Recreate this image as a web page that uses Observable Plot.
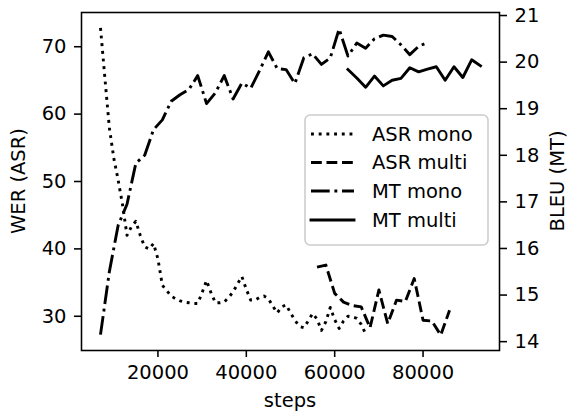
<!DOCTYPE html>
<html><head><meta charset="utf-8">
<script src="https://cdn.jsdelivr.net/npm/d3@7"></script>
<script src="https://cdn.jsdelivr.net/npm/@observablehq/plot@0.6"></script>
<style>
body{margin:0;background:#fff}
#chart{width:567px;height:413px}
</style>
</head><body><div id="chart"></div>
<script>
// ---- data ----
const asrMonoSteps = [7000,8000,9000,10000,11000,12000,13000,14000,15000,16000,17000,18000,19000,20000,21000,22000,23000,24000,25000,26000,27000,28000,29000,30000,31000,32000,33000,34000,35000,36000,37000,38000,39000,40000,41000,42000,43000,44000,45000,46000,47000,48000,49000,50000,51000,52000,53000,54000,55000,56000,57000,58000,59000,60000,61000,62000,63000,64000,65000,66000,67000];
const asrMonoWer = [72.8,65.3,58.0,53.5,50.2,46.5,42.0,43.3,44.1,42.0,40.3,40.0,40.8,38.5,34.6,33.8,33.0,32.6,32.3,32.1,32.0,31.9,31.9,33.5,35.3,33.5,32.0,32.0,32.1,32.8,33.6,34.8,35.9,34.0,32.4,32.4,32.8,33.0,32.6,31.5,30.5,31.4,31.7,30.5,29.4,28.5,28.3,29.3,30.4,29.6,27.9,29.2,31.3,29.5,28.2,29.3,30.0,29.9,29.7,28.8,27.4];

const asrMultiSteps = [56000,58000,60000,62000,64000,66000,68000,70000,72000,74000,76000,78000,80000,82000,84000,86000];
const asrMultiWer = [37.3,37.6,33.4,32.1,31.6,31.4,28.3,33.9,28.9,32.4,32.2,35.6,29.4,29.3,27.2,30.9];

const mtMonoSteps = [7000,9000,11000,13000,15000,17000,19000,21000,23000,25000,27000,29000,31000,33000,35000,37000,39000,41000,43000,45000,47000,49000,51000,53000,55000,57000,59000,61000,63000,65000,67000,69000,71000,73000,75000,77000,79000,81000];
const mtMonoBleu = [14.15,15.5,16.5,16.95,17.83,18.0,18.55,18.76,19.16,19.3,19.41,19.71,19.11,19.34,19.71,19.21,19.55,19.44,19.82,20.22,19.86,19.84,19.54,20.09,20.18,19.95,20.09,20.71,20.13,20.41,20.3,20.5,20.58,20.55,20.37,20.16,20.34,20.42];

const mtMultiSteps = [63000,65000,67000,69000,71000,73000,75000,77000,79000,81000,83000,85000,87000,89000,91000,93000];
const mtMultiBleu = [19.84,19.66,19.46,19.7,19.49,19.61,19.65,19.88,19.79,19.85,19.9,19.61,19.9,19.67,20.05,19.92];

const xTicks = [20000,40000,60000,80000];
const werTicks = [30,40,50,60,70];
const bleuTicks = [14,15,16,17,18,19,20,21];

const seriesNames = ["ASR mono","ASR multi","MT mono","MT multi"];

// ---- scales ----
const xDomain = [2700, 97300];
const werDomain = [24.92, 75.08];
const bleuDomain = [13.81, 21.065];
// map BLEU (right axis) into the shared WER y scale
const toWer = b => werDomain[0] + (b - bleuDomain[0]) / (bleuDomain[1] - bleuDomain[0]) * (werDomain[1] - werDomain[0]);

const asrMono = asrMonoSteps.map((s,i)=>({step:s, v:asrMonoWer[i]}));
const asrMulti = asrMultiSteps.map((s,i)=>({step:s, v:asrMultiWer[i]}));
const mtMono = mtMonoSteps.map((s,i)=>({step:s, v:toWer(mtMonoBleu[i])}));
const mtMulti = mtMultiSteps.map((s,i)=>({step:s, v:toWer(mtMultiBleu[i])}));

const LW = 2.9;
const dashes = ["2.9,4.8", "10.8,4.7", "18.7,4.7,2.9,4.7", null];
const FS = 19.5;

const lineOpts = (k) => ({x:"step", y:"v", stroke:"black", strokeWidth:LW,
  strokeDasharray: dashes[k] ?? undefined, strokeLinecap: k===3 ? "square" : "butt", strokeLinejoin:"round"});

const plot = Plot.plot({
  width: 567, height: 413,
  marginLeft: 81, marginRight: 68, marginTop: 12, marginBottom: 63,
  x: {domain: xDomain},
  y: {domain: werDomain},
  style: {fontFamily: "'DejaVu Sans'", fontSize: FS + "px", color: "black", background: "white", overflow: "visible"},
  marks: [
    Plot.line(asrMono, lineOpts(0)),
    Plot.line(asrMulti, lineOpts(1)),
    Plot.line(mtMono, lineOpts(2)),
    Plot.line(mtMulti, lineOpts(3)),
    Plot.frame({stroke:"black", strokeWidth:1.56}),
    Plot.axisX(xTicks, {tickFormat: d => String(d), tickSize: 7, tickPadding: 8, strokeWidth: 1.56, fontSize: FS, label: null}),
    Plot.axisY(werTicks, {anchor: "left", tickSize: 7, tickPadding: 8, strokeWidth: 1.56, fontSize: FS, label: null}),
    Plot.axisY(bleuTicks.map(toWer), {anchor: "right", tickFormat: (d,i) => String(bleuTicks[i]), tickSize: 7, tickPadding: 8, strokeWidth: 1.56, fontSize: FS, label: null})
  ]
});

document.getElementById("chart").appendChild(plot);

// ---- axis titles and legend ----
const svg = d3.select(plot);
const g = svg.append("g").attr("font-family", "'DejaVu Sans'").attr("font-size", FS).attr("fill", "black");
g.append("text").attr("transform", "translate(18,181) rotate(-90)").attr("text-anchor","middle").attr("dominant-baseline","central").text("WER (ASR)");
g.append("text").attr("transform", "translate(557,181) rotate(-90)").attr("text-anchor","middle").attr("dominant-baseline","central").text("BLEU (MT)");
g.append("text").attr("x", 290).attr("y", 407).attr("text-anchor","middle").text("steps");

const leg = svg.append("g");
leg.append("rect").attr("x",305).attr("y",115).attr("width",183).attr("height",130).attr("rx",5)
  .attr("fill","white").attr("fill-opacity",0.8).attr("stroke","#cccccc").attr("stroke-width",1.56);
const rowY = [134, 162.5, 191, 220];
seriesNames.forEach((name,k) => {
  const ln = leg.append("line").attr("x1",311).attr("x2",354).attr("y1",rowY[k]).attr("y2",rowY[k])
    .attr("stroke","black").attr("stroke-width",LW).attr("stroke-linecap", k===3 ? "square" : "butt");
  if (dashes[k]) ln.attr("stroke-dasharray", dashes[k]);
  leg.append("text").attr("x",372).attr("y",rowY[k]).attr("dominant-baseline","central").attr("text-anchor","start")
    .attr("font-family","'DejaVu Sans'").attr("font-size",FS).attr("fill","black").text(name);
});
</script>
</body></html>
